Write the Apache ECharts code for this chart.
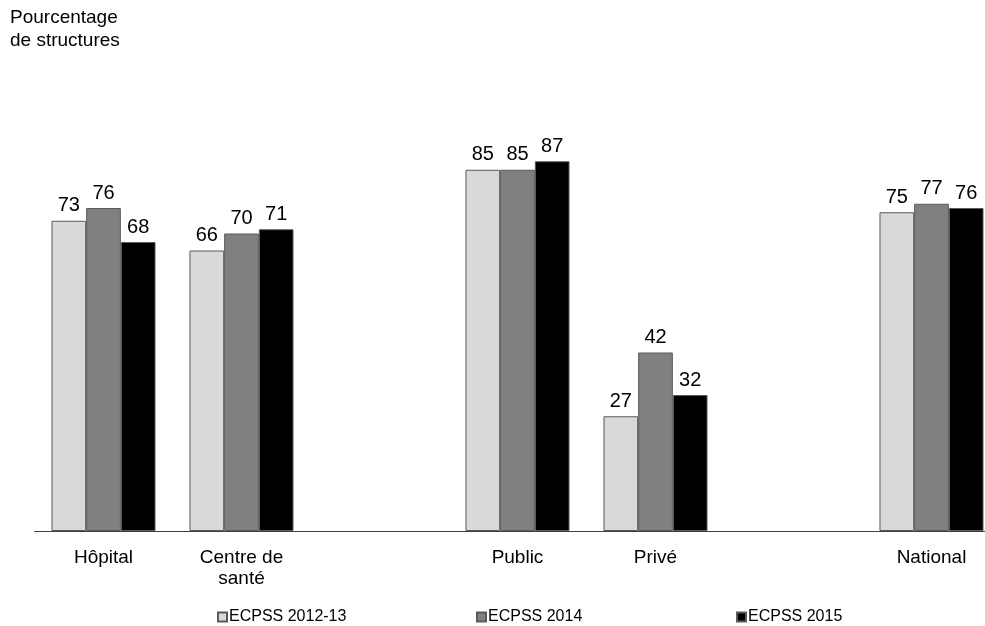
<!DOCTYPE html>
<html>
<head>
<meta charset="utf-8">
<script src="https://cdn.jsdelivr.net/npm/echarts@6/dist/echarts.min.js"></script>
<style>html,body{margin:0;padding:0;background:#fff}#c{width:985px;height:626px}</style>
</head>
<body>
<div id="c"></div>
<script>
const categories = ['Hôpital', 'Centre de\nsanté', '', 'Public', 'Privé', '', 'National'];
const seriesNames = ['ECPSS 2012-13', 'ECPSS 2014', 'ECPSS 2015'];
const s2012 = [73, 66, '-', 85, 27, '-', 75];
const s2014 = [76, 70, '-', 85, 42, '-', 77];
const s2015 = [68, 71, '-', 87, 32, '-', 76];
const colors = ['#d9d9d9', '#808080', '#000000'];
const yTitle = 'Pourcentage\nde structures';

const font = 'Liberation Sans, Arial, sans-serif';
const chart = echarts.init(document.getElementById('c'));
const mk = (name, data, color) => ({
  name, type: 'bar', data,
  barGap: '0%', barCategoryGap: '24.6%',
  itemStyle: { color, borderColor: '#5a5a5a', borderWidth: 1 },
  label: { show: true, position: 'top', distance: 5, color: '#000', fontSize: 20, fontFamily: font },
  animation: false
});
const legendLefts = [217, 476, 736];
chart.setOption({
  animation: false,
  title: { text: yTitle, left: 10, top: 6, padding: 0, textStyle: { fontSize: 19, fontWeight: 'normal', color: '#000', fontFamily: font, lineHeight: 23 } },
  legend: seriesNames.map((n, i) => ({
    left: legendLefts[i], top: 609, padding: 0, itemGap: 0, itemWidth: 9, itemHeight: 9, icon: 'rect',
    data: [n],
    textStyle: { fontSize: 16, color: '#000', fontFamily: font, padding: [0, 0, 0, -3] }
  })),
  grid: { left: 34.5, top: 106, width: 966, height: 425, outerBoundsMode: 'none', containLabel: false },
  xAxis: {
    type: 'category', data: categories,
    axisLine: { lineStyle: { color: '#404040', width: 1 } },
    axisTick: { show: false },
    axisLabel: { color: '#000', fontSize: 19, fontFamily: font, margin: 16, lineHeight: 21, interval: 0 }
  },
  yAxis: { type: 'value', min: 0, max: 100, show: false, splitLine: { show: false } },
  series: [mk(seriesNames[0], s2012, colors[0]), mk(seriesNames[1], s2014, colors[1]), mk(seriesNames[2], s2015, colors[2])]
});
</script>
</body>
</html>
